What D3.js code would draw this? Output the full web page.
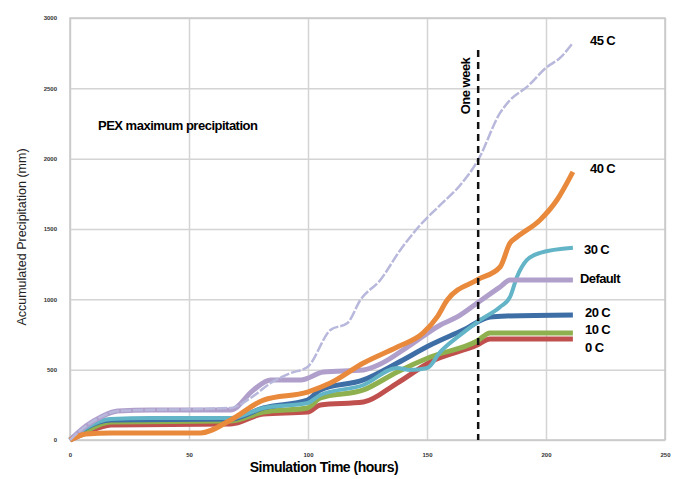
<!DOCTYPE html>
<html>
<head>
<meta charset="utf-8">
<script src="https://cdn.jsdelivr.net/npm/d3@7"></script>
<style>
  body { margin: 0; background: #fff; }
  svg { font-family: "Liberation Sans", Arial, sans-serif; }
  .grid line { stroke: #d4d4d4; stroke-width: 1.5; }
  .grid path { display: none; }
  .tick text { font-size: 6px; font-weight: bold; fill: #333; }
</style>
</head>
<body>
<svg width="676" height="479"></svg>
<script>
// series: [hours, accumulated mm]
var c0 = [[0,0],[6.7,50],[17.2,107],[67.5,114],[81.3,185],[99.8,199],[105.2,249],[123.3,270],[137.5,405],[151.4,555],[171.1,675],[176.5,718],[211.3,718]];
var c10 = [[0,0],[6.7,64],[17.2,128],[67.5,135],[81.3,199],[99.8,228],[105.2,299],[123.3,356],[137.5,484],[151.4,590],[171.1,704],[176.5,761],[211.3,761]];
var c20 = [[0,0],[6.7,85],[17.2,142],[67.5,149],[81.3,228],[99.8,284],[105.2,356],[123.3,427],[137.5,547],[151.4,675],[165.2,782],[176.5,875],[183.6,882],[211.3,889]];
var c30 = [[0,0],[6.7,85],[17.2,149],[34,156],[67.5,156],[81.3,228],[99.8,263],[105.2,320],[123.3,391],[137.5,512],[143,498],[150.1,512],[155.6,626],[164,747],[172.3,853],[180.7,946],[184.9,1017],[187.8,1159],[192,1280],[197.5,1330],[211.3,1366]];
var cDefault = [[0,0],[6.7,100],[13,164],[20.1,206],[34,213],[67.5,213],[77.1,356],[84.3,427],[96.9,427],[106.5,483],[123.3,498],[130.4,540],[143,675],[155.6,818],[162.7,875],[171.1,974],[180.7,1088],[184.9,1138],[211.3,1138]];
var c40 = [[0,0],[6.7,43],[17.2,50],[54.9,50],[67.5,142],[81.3,284],[99.8,341],[109.4,405],[123.3,547],[137.5,661],[148.4,761],[154.3,875],[158.5,995],[171.1,1138],[180.7,1230],[184.9,1401],[187.8,1443],[197.5,1564],[204.6,1706],[211.3,1906]];
var c45 = [[0,0],[6.7,100],[13,164],[20.1,206],[67.5,228],[75.9,299],[84.3,405],[92.7,476],[99.8,519],[109.4,782],[116.6,832],[122,995],[130.4,1138],[138.8,1351],[147.2,1529],[155.6,1671],[164,1813],[171.5,1991],[180.7,2325],[184.9,2417],[192,2510],[200.4,2652],[205.9,2716],[211.3,2823]];

var seriesNames = ["0 C", "10 C", "20 C", "30 C", "Default", "40 C", "45 C"];
var seriesData = [c0, c10, c20, c30, cDefault, c40, c45];
var xTicks = [0, 50, 100, 150, 200, 250];
var yTicks = [0, 500, 1000, 1500, 2000, 2500, 3000];
var oneWeek = 171.5;

var colors = ["#c0504d", "#8fb04e", "#3e6ea6", "#62b4c6", "#b09fcb", "#e8893c", "#b8b8dc"];
var widths = [5, 5, 5, 4, 5, 5, 2.5];
var labelY = [347, 329, 312, 249, 278, 168, 40];
var labelX = [585, 585, 585, 584, 580, 590, 590];

var svg = d3.select("svg");
var pLeft = 70, pRight = 665, pTop = 18, pBottom = 440;

var x = d3.scaleLinear().domain([0, 250]).range([pLeft, pRight]);
var y = d3.scaleLinear().domain([0, 3000]).range([pBottom, pTop]);

// gridlines
svg.append("g").attr("class", "grid")
    .attr("transform", "translate(0," + pBottom + ")")
    .call(d3.axisBottom(x).tickValues(xTicks).tickSize(-(pBottom - pTop)).tickFormat(""));
svg.append("g").attr("class", "grid")
    .attr("transform", "translate(" + pLeft + ",0)")
    .call(d3.axisLeft(y).tickValues(yTicks).tickSize(-(pRight - pLeft)).tickFormat(""));

svg.append("rect")
    .attr("x", pLeft).attr("y", pTop)
    .attr("width", pRight - pLeft).attr("height", pBottom - pTop)
    .attr("fill", "none").attr("stroke", "#c8c8c8").attr("stroke-width", 1.5);

// tick labels
var xa = svg.append("g")
    .attr("transform", "translate(0," + (pBottom + 10) + ")")
    .call(d3.axisBottom(x).tickValues(xTicks).tickSize(0).tickFormat(d3.format("d")));
xa.select(".domain").remove();

var ya = svg.append("g")
    .attr("transform", "translate(" + (pLeft - 10) + ",0)")
    .call(d3.axisLeft(y).tickValues(yTicks).tickSize(0).tickFormat(d3.format("d")));
ya.select(".domain").remove();

// lines
var line = d3.line()
    .x(function (d) { return x(d[0]); })
    .y(function (d) { return y(d[1]); })
    .curve(d3.curveMonotoneX);

svg.selectAll(".series")
    .data(seriesData)
    .enter().append("path")
    .attr("class", "series")
    .attr("d", line)
    .attr("fill", "none")
    .attr("stroke", function (d, i) { return colors[i]; })
    .attr("stroke-width", function (d, i) { return widths[i]; })
    .attr("stroke-dasharray", function (d, i) { return i === 6 ? "10,2" : null; })
    .attr("stroke-linejoin", "round");

// one week marker
svg.append("line")
    .attr("x1", x(oneWeek)).attr("x2", x(oneWeek))
    .attr("y1", 50).attr("y2", pBottom)
    .attr("stroke", "#111").attr("stroke-width", 2.5)
    .attr("stroke-dasharray", "7,5");

svg.append("text")
    .attr("transform", "translate(" + (x(oneWeek) - 13) + ",86) rotate(-90)")
    .attr("text-anchor", "middle")
    .attr("dy", "0.35em")
    .style("font-size", "13px").style("font-weight", "bold")
    .style("letter-spacing", "-0.5px")
    .text("One week");

// series labels
svg.selectAll(".lab")
    .data(seriesNames)
    .enter().append("text")
    .attr("class", "lab")
    .attr("x", function (d, i) { return labelX[i]; })
    .attr("y", function (d, i) { return labelY[i]; })
    .attr("dy", "0.35em")
    .style("font-size", "13px").style("font-weight", "bold")
    .style("letter-spacing", "-0.6px")
    .text(function (d) { return d; });

svg.append("text")
    .attr("x", 98).attr("y", 125)
    .attr("dy", "0.35em")
    .style("font-size", "13px").style("font-weight", "bold")
    .style("letter-spacing", "-0.5px")
    .text("PEX maximum precipitation");

// axis titles
svg.append("text")
    .attr("x", 324).attr("y", 467)
    .attr("text-anchor", "middle")
    .attr("dy", "0.35em")
    .style("font-size", "14px").style("font-weight", "bold")
    .style("letter-spacing", "-0.5px")
    .text("Simulation  Time (hours)");

svg.append("text")
    .attr("transform", "translate(22,237) rotate(-90)")
    .attr("text-anchor", "middle")
    .attr("dy", "0.35em")
    .style("font-size", "12.5px")
    .style("fill", "#222")
    .text("Accumulated  Precipitation  (mm)");
</script>
</body>
</html>
